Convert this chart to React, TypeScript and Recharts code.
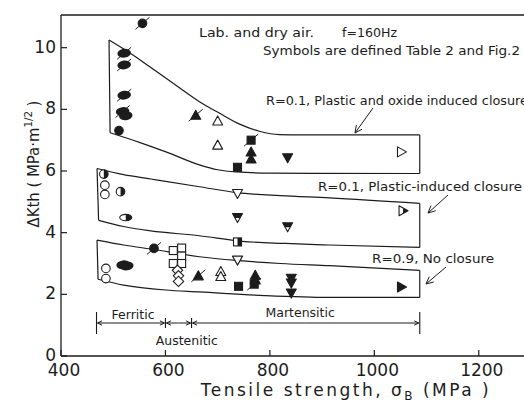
import React from 'react';
import { ComposedChart, Scatter, XAxis, YAxis, ReferenceLine, Customized } from 'recharts';

// ---------------- data ----------------
const xTicks = [400, 600, 800, 1000, 1200];
const yTicks = [0, 2, 4, 6, 8, 10];

// band boundaries (MPa, MPa·m^1/2)
const band1Upper = [
  { x: 492, y: 10.25 }, { x: 530, y: 9.85 }, { x: 570, y: 9.38 }, { x: 620, y: 8.78 },
  { x: 665, y: 8.25 }, { x: 703, y: 7.88 }, { x: 742, y: 7.52 }, { x: 780, y: 7.29 },
  { x: 818, y: 7.18 }, { x: 860, y: 7.17 }, { x: 1087, y: 7.17 },
];
const band1Lower = [
  { x: 494, y: 7.24 }, { x: 550, y: 6.93 }, { x: 601, y: 6.62 }, { x: 665, y: 6.2 },
  { x: 700, y: 6.04 }, { x: 736, y: 5.97 }, { x: 800, y: 5.93 }, { x: 1087, y: 5.92 },
];
const band2Upper = [
  { x: 469, y: 6.08 }, { x: 520, y: 5.88 }, { x: 572, y: 5.74 }, { x: 665, y: 5.49 },
  { x: 736, y: 5.3 }, { x: 820, y: 5.2 }, { x: 914, y: 5.13 }, { x: 1087, y: 4.95 },
];
const band2Lower = [
  { x: 472, y: 4.4 }, { x: 520, y: 4.2 }, { x: 572, y: 4.06 }, { x: 665, y: 3.9 },
  { x: 747, y: 3.72 }, { x: 830, y: 3.65 }, { x: 914, y: 3.6 }, { x: 1087, y: 3.52 },
];
const band3Upper = [
  { x: 469, y: 3.76 }, { x: 520, y: 3.6 }, { x: 572, y: 3.47 }, { x: 665, y: 3.22 },
  { x: 736, y: 3.1 }, { x: 820, y: 3.0 }, { x: 914, y: 2.93 }, { x: 1087, y: 2.78 },
];
const band3Lower = [
  { x: 471, y: 2.49 }, { x: 520, y: 2.3 }, { x: 600, y: 2.14 }, { x: 665, y: 2.08 },
  { x: 790, y: 1.96 }, { x: 914, y: 1.9 }, { x: 1087, y: 1.9 },
];

// data points (s = slashed symbol)
const filledCircle = [{ x: 556, y: 10.79, s: 1 }, { x: 511, y: 7.31 }, { x: 578, y: 3.49, s: 1 }];
const blobs = [
  { x: 521, y: 9.82, s: 1 }, { x: 521, y: 9.44, s: 1 }, { x: 521, y: 8.46, s: 1 },
  { x: 518, y: 7.93, s: 1 }, { x: 524, y: 7.79 }, { x: 519, y: 2.96 }, { x: 526, y: 2.92 },
];
const openCircle = [{ x: 484, y: 5.54 }, { x: 484, y: 5.24 }, { x: 486, y: 2.84 }, { x: 486, y: 2.51 }];
const halfCircle = [{ x: 482, y: 5.9 }, { x: 514, y: 5.33 }];
const halfOval = [{ x: 524, y: 4.49 }];
const filledTriUp = [
  { x: 658, y: 7.81, s: 1 }, { x: 764, y: 6.62 }, { x: 764, y: 6.39 },
  { x: 663, y: 2.6, s: 1 }, { x: 772, y: 2.62 }, { x: 772, y: 2.47 },
];
const openTriUp = [{ x: 700, y: 7.62 }, { x: 700, y: 6.84 }, { x: 706, y: 2.74 }, { x: 706, y: 2.58 }];
const filledSquare = [{ x: 764, y: 7.0, s: 1 }, { x: 738, y: 6.12 }, { x: 740, y: 2.26 }, { x: 770, y: 2.33, s: 1 }];
const filledTriDown = [{ x: 834, y: 6.43 }, { x: 841, y: 2.52 }, { x: 841, y: 2.37 }, { x: 841, y: 2.04 }];
const openTriDown = [{ x: 738, y: 5.27 }, { x: 738, y: 3.11 }];
const halfTriDown = [{ x: 738, y: 4.49 }, { x: 834, y: 4.19 }];
const halfSquare = [{ x: 738, y: 3.7 }];
const openSquare = [
  { x: 615, y: 3.42 }, { x: 631, y: 3.5 }, { x: 631, y: 3.24 }, { x: 615, y: 3.0 }, { x: 631, y: 3.0 },
];
const openDiamond = [{ x: 623, y: 2.78 }, { x: 625, y: 2.6 }, { x: 625, y: 2.42 }];
const openTriRight = [{ x: 1052, y: 6.62 }];
const halfTriRight = [{ x: 1055, y: 4.71 }];
const filledTriRight = [{ x: 1052, y: 2.24 }];

// phase boundaries (MPa)
const phaseBounds = [468, 600, 650, 1087];
const phaseLabels = [
  { text: 'Ferritic', x: 538, y: 1.32 },
  { text: 'Austenitic', x: 641, y: 0.5 },
  { text: 'Martensitic', x: 858, y: 1.39 },
];

// ---------------- layout ----------------
const INK = '#1c1c1c';
const W = 540;
const H = 406;
const M = { top: 15, right: 9, left: 61, bottom: 50 };
const XD = [400, 1300];
const YD = [0, 11.06];
const px = (v: number) => M.left + ((v - XD[0]) / (XD[1] - XD[0])) * (W - M.left - M.right);
const py = (v: number) => H - M.bottom - ((v - YD[0]) / (YD[1] - YD[0])) * (H - M.top - M.bottom);
const FONT = 'DejaVu Sans';

type Kind = 'circle' | 'oval' | 'blob' | 'square' | 'diamond' | 'triUp' | 'triDown' | 'triRight';
type Fill = 'full' | 'open' | 'half';

function makeShape(kind: Kind, fill: Fill) {
  return (p: any) => {
    const { cx, cy, payload } = p;
    if (cx == null || cy == null) return <g />;
    const sw = 1.1;
    const openFill = '#fff';
    const main = fill === 'full' ? INK : openFill;
    let body: React.ReactNode = null;
    let half: React.ReactNode = null;
    switch (kind) {
      case 'circle': {
        const r = 4.3;
        body = <circle cx={cx} cy={cy} r={r} fill={main} stroke={INK} strokeWidth={sw} />;
        if (fill === 'half')
          half = <path d={`M${cx},${cy - r} A${r},${r} 0 0 1 ${cx},${cy + r} Z`} fill={INK} />;
        break;
      }
      case 'oval': {
        body = <ellipse cx={cx} cy={cy} rx={6} ry={3.2} fill={main} stroke={INK} strokeWidth={sw} />;
        if (fill === 'half')
          half = <path d={`M${cx},${cy - 3.2} A6,3.2 0 0 1 ${cx},${cy + 3.2} Z`} fill={INK} />;
        break;
      }
      case 'blob':
        body = <ellipse cx={cx} cy={cy} rx={6.8} ry={4.4} fill={INK} transform={`rotate(-8 ${cx} ${cy})`} />;
        break;
      case 'square': {
        const s = 4;
        body = <rect x={cx - s} y={cy - s} width={2 * s} height={2 * s} fill={main} stroke={INK} strokeWidth={sw} />;
        if (fill === 'half') half = <rect x={cx} y={cy - s} width={s} height={2 * s} fill={INK} />;
        break;
      }
      case 'diamond': {
        const r = 5.2;
        body = (
          <polygon points={`${cx},${cy - r} ${cx + r},${cy} ${cx},${cy + r} ${cx - r},${cy}`}
            fill={main} stroke={INK} strokeWidth={sw} />
        );
        break;
      }
      case 'triUp':
        body = (
          <polygon points={`${cx},${cy - 5} ${cx + 5},${cy + 4} ${cx - 5},${cy + 4}`}
            fill={main} stroke={INK} strokeWidth={sw} strokeLinejoin="round" />
        );
        break;
      case 'triDown':
        body = (
          <polygon points={`${cx - 5},${cy - 4} ${cx + 5},${cy - 4} ${cx},${cy + 5}`}
            fill={main} stroke={INK} strokeWidth={sw} strokeLinejoin="round" />
        );
        if (fill === 'half')
          half = <polygon points={`${cx - 5},${cy - 4} ${cx + 5},${cy - 4} ${cx + 2.5},${cy + 0.5} ${cx - 2.5},${cy + 0.5}`} fill={INK} />;
        break;
      case 'triRight':
        body = (
          <polygon points={`${cx - 4},${cy - 5} ${cx + 5},${cy} ${cx - 4},${cy + 5}`}
            fill={main} stroke={INK} strokeWidth={sw} strokeLinejoin="round" />
        );
        if (fill === 'half')
          half = <polygon points={`${cx},${cy - 2.8} ${cx + 5},${cy} ${cx},${cy + 2.8}`} fill={INK} />;
        break;
    }
    return (
      <g>
        {body}
        {half}
        {payload && payload.s ? (
          <line x1={cx - 7} y1={cy + 6} x2={cx + 7} y2={cy - 6} stroke={INK} strokeWidth={1} />
        ) : null}
      </g>
    );
  };
}

const NoShape = () => <g />;

const XTick = (p: any) => {
  const { x, y, payload } = p;
  return (
    <g>
      <line x1={x} x2={x} y1={y} y2={y - 6} stroke={INK} strokeWidth={1.2} />
      <text x={x + 3} y={y + 19.5} textAnchor="middle" fontSize={17} fontFamily={FONT} fill={INK}>
        {payload.value}
      </text>
    </g>
  );
};

const YTick = (p: any) => {
  const { x, y, payload } = p;
  return (
    <g>
      <line x1={x} x2={x + 6} y1={y} y2={y} stroke={INK} strokeWidth={1.2} />
      <text x={x - 5} y={y + 5} textAnchor="end" fontSize={17} fontFamily={FONT} fill={INK}>
        {payload.value}
      </text>
    </g>
  );
};

function Arrow({ x1, y1, x2, y2, head = 6 }: { x1: number; y1: number; x2: number; y2: number; head?: number }) {
  const a = Math.atan2(y2 - y1, x2 - x1);
  const h1x = x2 - head * Math.cos(a - 0.45);
  const h1y = y2 - head * Math.sin(a - 0.45);
  const h2x = x2 - head * Math.cos(a + 0.45);
  const h2y = y2 - head * Math.sin(a + 0.45);
  return (
    <g stroke={INK} strokeWidth={1} fill="none">
      <line x1={x1} y1={y1} x2={x2} y2={y2} />
      <polyline points={`${h1x},${h1y} ${x2},${y2} ${h2x},${h2y}`} />
    </g>
  );
}

const Annotations = () => {
  const yl = py(1.07);
  const segs = [] as React.ReactNode[];
  for (let i = 0; i < phaseBounds.length - 1; i++) {
    const a = px(phaseBounds[i]);
    const b = px(phaseBounds[i + 1]);
    const m = (a + b) / 2;
    segs.push(<Arrow key={`l${i}`} x1={m} y1={yl} x2={a + 1} y2={yl} head={5} />);
    segs.push(<Arrow key={`r${i}`} x1={m} y1={yl} x2={b - 1} y2={yl} head={5} />);
  }
  const barH = (i: number) => (i === 0 || i === phaseBounds.length - 1 ? 11 : 5);
  const textProps = { fontFamily: FONT, fontSize: 12, fill: INK, lengthAdjust: 'spacingAndGlyphs' as const };
  return (
    <g>
      {phaseBounds.map((b, i) => (
        <line key={`b${i}`} x1={px(b)} x2={px(b)} y1={yl - barH(i)} y2={yl + barH(i)} stroke={INK} strokeWidth={1.1} />
      ))}
      {segs}
      {phaseLabels.map((l) => (
        <text key={l.text} x={px(l.x)} y={py(l.y) + 4} textAnchor="middle" fontFamily={FONT} fontSize={12.5} fill={INK}>
          {l.text}
        </text>
      ))}
      <text x={199} y={36.5} textLength={115} {...textProps}>Lab. and dry air.</text>
      <text x={342} y={36.5} textLength={55} {...textProps}>f=160Hz</text>
      <text x={263} y={54.5} textLength={257} {...textProps}>Symbols are defined Table 2 and Fig.2</text>
      <text x={266} y={104.5} textLength={262} {...textProps}>R=0.1, Plastic and oxide induced closure</text>
      <text x={318} y={191} textLength={204} {...textProps}>R=0.1, Plastic-induced closure</text>
      <text x={372} y={262.5} textLength={122} {...textProps}>R=0.9, No closure</text>
      <Arrow x1={373} y1={108} x2={355} y2={133} head={8} />
      <Arrow x1={448} y1={195} x2={428} y2={213} head={8} />
      <Arrow x1={446} y1={267} x2={426} y2={284} head={8} />
      <g transform="translate(39,164) rotate(-90) scale(0.93,1)">
        <text x={0} y={0} textAnchor="middle" fontFamily={FONT} fontSize={16} fill={INK}>
          {'\u0394Kth ( MPa\u00B7m'}
          <tspan dy={-7} fontSize={11}>1/2</tspan>
          <tspan dy={7}>{' )'}</tspan>
        </text>
      </g>
      <text x={346} y={396} textAnchor="middle" fontFamily={FONT} fontSize={17} letterSpacing={2.5} fill={INK}>
        {'Tensile strength, \u03C3'}
        <tspan dy={4} fontSize={12}>B</tspan>
        <tspan dy={-4}>{' (MPa )'}</tspan>
      </text>
    </g>
  );
};

const bandLine = { stroke: INK, strokeWidth: 1.2 };

export default function App() {
  const bands = [
    [band1Upper, band1Lower],
    [band2Upper, band2Lower],
    [band3Upper, band3Lower],
  ];
  const bandSeries: React.ReactNode[] = [];
  bands.forEach(([u, l], i) => {
    bandSeries.push(
      <Scatter key={`u${i}`} data={u} line={bandLine} lineJointType="monotoneX" shape={NoShape} isAnimationActive={false} />,
      <Scatter key={`l${i}`} data={l} line={bandLine} lineJointType="monotoneX" shape={NoShape} isAnimationActive={false} />,
      <Scatter key={`le${i}`} data={[u[0], l[0]]} line={bandLine} shape={NoShape} isAnimationActive={false} />,
      <Scatter key={`re${i}`} data={[u[u.length - 1], l[l.length - 1]]} line={bandLine} shape={NoShape} isAnimationActive={false} />,
    );
  });
  const series: [any[], Kind, Fill][] = [
    [blobs, 'blob', 'full'],
    [filledCircle, 'circle', 'full'],
    [openCircle, 'circle', 'open'],
    [halfCircle, 'circle', 'half'],
    [halfOval, 'oval', 'half'],
    [filledTriUp, 'triUp', 'full'],
    [openTriUp, 'triUp', 'open'],
    [filledSquare, 'square', 'full'],
    [filledTriDown, 'triDown', 'full'],
    [openTriDown, 'triDown', 'open'],
    [halfTriDown, 'triDown', 'half'],
    [halfSquare, 'square', 'half'],
    [openSquare, 'square', 'open'],
    [openDiamond, 'diamond', 'open'],
    [openTriRight, 'triRight', 'open'],
    [halfTriRight, 'triRight', 'half'],
    [filledTriRight, 'triRight', 'full'],
  ];
  return (
    <div style={{ position: 'absolute', left: 0, top: 0, width: 524, height: 406, overflow: 'hidden', background: '#fff' }}>
      <ComposedChart width={W} height={H} margin={{ top: M.top, right: M.right, bottom: 0, left: 0 }}>
        <XAxis
          type="number" dataKey="x" domain={XD} ticks={xTicks} height={M.bottom} interval={0}
          tickLine={false} tickSize={0} tickMargin={0} allowDataOverflow
          axisLine={{ stroke: INK, strokeWidth: 1.3 }} tick={(p: any) => <XTick {...p} />}
        />
        <YAxis
          type="number" dataKey="y" domain={YD} ticks={yTicks} width={M.left} interval={0}
          tickLine={false} tickSize={0} tickMargin={0} allowDataOverflow
          axisLine={{ stroke: INK, strokeWidth: 1.3 }} tick={(p: any) => <YTick {...p} />}
        />
        <ReferenceLine y={YD[1]} stroke={INK} strokeWidth={1.3} />
        {bandSeries}
        {series.map(([d, k, f], i) => (
          <Scatter key={`s${i}`} data={d} shape={makeShape(k, f)} isAnimationActive={false} />
        ))}
        <Customized component={Annotations} />
      </ComposedChart>
    </div>
  );
}
